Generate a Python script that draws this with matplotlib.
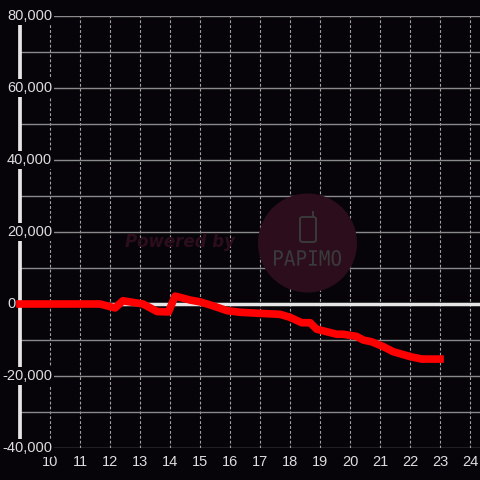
import matplotlib
matplotlib.use("Agg")
import matplotlib.pyplot as plt
from matplotlib.patches import Circle, FancyBboxPatch, PathPatch
from matplotlib.textpath import TextPath
from matplotlib.font_manager import FontProperties
from matplotlib.transforms import blended_transform_factory, Affine2D

hours = [9.0, 11.67, 12.17, 12.43, 13.1, 13.57, 13.95, 14.17, 14.67, 15.0, 15.43, 15.9,
         16.33, 17.0, 17.67, 18.0, 18.39, 18.67, 18.89, 19.22, 19.56, 19.77, 20.22,
         20.44, 20.72, 21.11, 21.44, 22.0, 22.39, 23.0]
values = [0, 0, -1100, 900, 0, -2100, -2200, 2200, 1100, 600, -500, -1850,
          -2300, -2600, -2870, -3700, -5200, -5200, -7000, -7700, -8400, -8400, -9000,
          -10000, -10500, -11850, -13250, -14600, -15300, -15300]
x_ticks = list(range(10, 25))
y_ticks = [-40000, -20000, 0, 20000, 40000, 60000, 80000]
y_minor = [-30000, -10000, 10000, 30000, 50000, 70000]

plt.rcParams["font.family"] = ["Liberation Sans", "DejaVu Sans"]

BG = "#060409"
fig = plt.figure(figsize=(4.8, 4.8), dpi=100, facecolor=BG)
ax = fig.add_axes([20/480, 32/480, 460/480, 432/480])
ax.set_facecolor(BG)
ax.set_xlim(9, 24.333)
ax.set_ylim(-40000, 80000)

for s in ["top", "right", "bottom"]:
    ax.spines[s].set_visible(False)
ax.spines["left"].set_color("#e6e6e6")
ax.spines["left"].set_linewidth(2.7)
ax.spines["left"].set_zorder(3)

ax.set_xticks(x_ticks)
ax.set_xticklabels([str(t) for t in x_ticks])
ax.tick_params(axis="x", length=0, colors="#dddddd", labelsize=10.5, pad=5)
ax.set_yticks([])

# grid
for t in x_ticks:
    ax.axvline(t, color="#a0a0a0", lw=0.8, ls=(0, (2.6, 1.8)), zorder=2)
for v in y_ticks + y_minor:
    if v == 0:
        continue
    ax.axhline(v, color="#8a8a8a", lw=1.0, zorder=2)
ax.axhline(0, color="#e6e6e6", lw=2.5, zorder=2)

# watermark
circ = Circle((307.5, 480 - 243), 49.5, transform=None, facecolor="#2c0d1c",
              edgecolor="none", zorder=1)
fig.patches.append(circ)
fig.text(180/480, 1 - 242/480, "Powered by", color="#2c0d1c", fontsize=12,
         fontweight="bold", fontstyle="italic", family="DejaVu Sans",
         ha="center", va="center", zorder=1)

tp = TextPath((0, 0), "PAPIMO", size=10, prop=FontProperties(family="DejaVu Sans Mono"))
bb = tp.get_extents()
sx = 67 / bb.width
sy = 16 / bb.height
tr = Affine2D().translate(-bb.x0, -bb.y0).scale(sx, sy).translate(274, 480 - 266)
fig.patches.append(PathPatch(tr.transform_path(tp), transform=None,
                             facecolor="#3a3a3a", edgecolor="none", zorder=1))

phone = FancyBboxPatch((300/480, 1 - 242/480), 16/480, 25/480,
                       boxstyle="round,pad=0,rounding_size=0.005",
                       transform=fig.transFigure, facecolor="none",
                       edgecolor="#3a3a3a", lw=1.4, zorder=1)
fig.patches.append(phone)
fig.lines.append(plt.Line2D([313/480, 313/480], [1 - 217/480, 1 - 212/480],
                            transform=fig.transFigure, color="#3a3a3a", lw=1.4))

# y labels with background
trans = blended_transform_factory(ax.transAxes, ax.transData)
for v in y_ticks:
    if v == 0:
        ax.text(-4/460, v, "0", transform=trans, ha="right", va="center",
                color="#dddddd", fontsize=10.5, zorder=6)
        continue
    ax.text(32/460, v, f"{v:,}", transform=trans, ha="right", va="center",
            color="#dddddd", fontsize=10.5, zorder=6,
            bbox=dict(facecolor=BG, edgecolor="none", pad=1.5))

ax.plot(hours, values, color="#ff0000", lw=5.5, solid_joinstyle="round",
        solid_capstyle="projecting", zorder=5, clip_on=False)

fig.savefig("out.png", dpi=100, facecolor=BG)
